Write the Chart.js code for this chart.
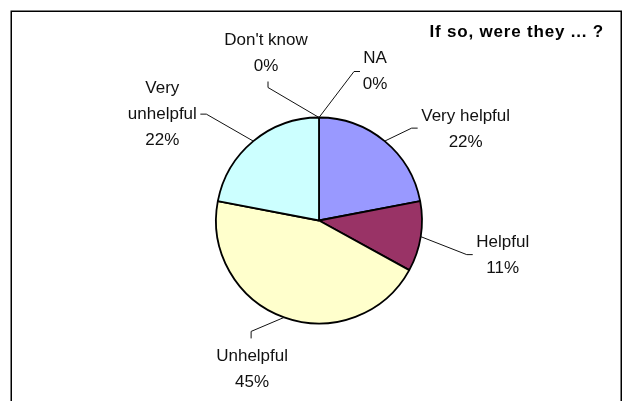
<!DOCTYPE html>
<html>
<head>
<meta charset="utf-8">
<script src="https://cdn.jsdelivr.net/npm/chart.js"></script>
<style>
  html, body { margin: 0; padding: 0; background: #fff; }
  #wrap { position: relative; width: 629px; height: 401px; }
</style>
</head>
<body>
<div id="wrap"><canvas id="myChart"></canvas></div>
<script>
var categories = ["Very helpful", "Helpful", "Unhelpful", "Very unhelpful", "Don't know", "NA"];
var values = [22, 11, 45, 22, 0, 0];
var sliceColors = ["#9999FF", "#993366", "#FFFFCC", "#CCFFFF", "#660066", "#FF8080"];
var chartTitle = "If so, were they ... ?";

// label placement, offsets from the point where the leader leaves the slice edge
var labelLayout = [
  { elbow: [27, -13], end: [33, -13], text: [81, -20] },
  { elbow: [46, 18], end: [52, 18], text: [82, 10] },
  { elbow: [-33, 14], end: [-33, 21], text: [-32, 44] },
  { elbow: [-47, -27], end: [-53, -27], text: [-91, -48], wrap: true },
  { elbow: [-51, -30], end: [-51, -36], text: [-53, -73] },
  { elbow: [35, -46], end: [41, -46], text: [56, -55] }
];

var pieLabels = {
  id: "pieLabels",
  afterDatasetsDraw: function (chart) {
    var ctx = chart.ctx;
    var arcs = chart.getDatasetMeta(0).data;
    var total = values.reduce(function (a, b) { return a + b; }, 0);
    ctx.save();
    ctx.strokeStyle = "#111";
    ctx.fillStyle = "#111";
    ctx.lineWidth = 1;
    ctx.font = "17px 'Liberation Sans', Arial, sans-serif";
    ctx.textAlign = "center";
    ctx.textBaseline = "alphabetic";
    arcs.forEach(function (arc, i) {
      var p = arc.getProps(["x", "y", "startAngle", "endAngle", "outerRadius"], true);
      var mid = (p.startAngle + p.endAngle) / 2;
      var ax = p.x + Math.cos(mid) * p.outerRadius;
      var ay = p.y + Math.sin(mid) * p.outerRadius;
      var lay = labelLayout[i];
      ctx.beginPath();
      ctx.moveTo(ax, ay);
      ctx.lineTo(ax + lay.elbow[0], ay + lay.elbow[1]);
      ctx.lineTo(ax + lay.end[0], ay + lay.end[1]);
      ctx.stroke();
      var lines = lay.wrap ? categories[i].split(" ") : [categories[i]];
      lines.push(Math.round(values[i] / total * 100) + "%");
      lines.forEach(function (t, k) {
        ctx.fillText(t, ax + lay.text[0], ay + lay.text[1] + k * 26);
      });
    });
    ctx.restore();
  },
  afterDraw: function (chart) {
    var ctx = chart.ctx;
    ctx.save();
    // outer frame
    ctx.strokeStyle = "#000";
    ctx.lineWidth = 1.5;
    ctx.strokeRect(11.25, 11.25, 610, 420);
    // title, top right
    ctx.fillStyle = "#000";
    ctx.font = "bold 17px 'Liberation Sans', Arial, sans-serif";
    ctx.letterSpacing = "0.8px";
    ctx.textAlign = "right";
    ctx.fillText(chartTitle, 604, 37);
    ctx.restore();
  }
};

var ctx = document.getElementById("myChart").getContext("2d");
var myChart = new Chart(ctx, {
  type: "pie",
  data: {
    labels: categories,
    datasets: [
      {
        data: values,
        backgroundColor: sliceColors,
        borderColor: "#000",
        borderWidth: 1.8,
        radius: 103
      }
    ]
  },
  options: {
    responsive: true,
    maintainAspectRatio: false,
    animation: false,
    layout: { padding: { left: 9, right: 0, top: 40, bottom: 0 } },
    plugins: {
      legend: { display: false },
      tooltip: { enabled: false },
      title: { display: false }
    }
  },
  plugins: [pieLabels]
});
</script>
</body>
</html>
